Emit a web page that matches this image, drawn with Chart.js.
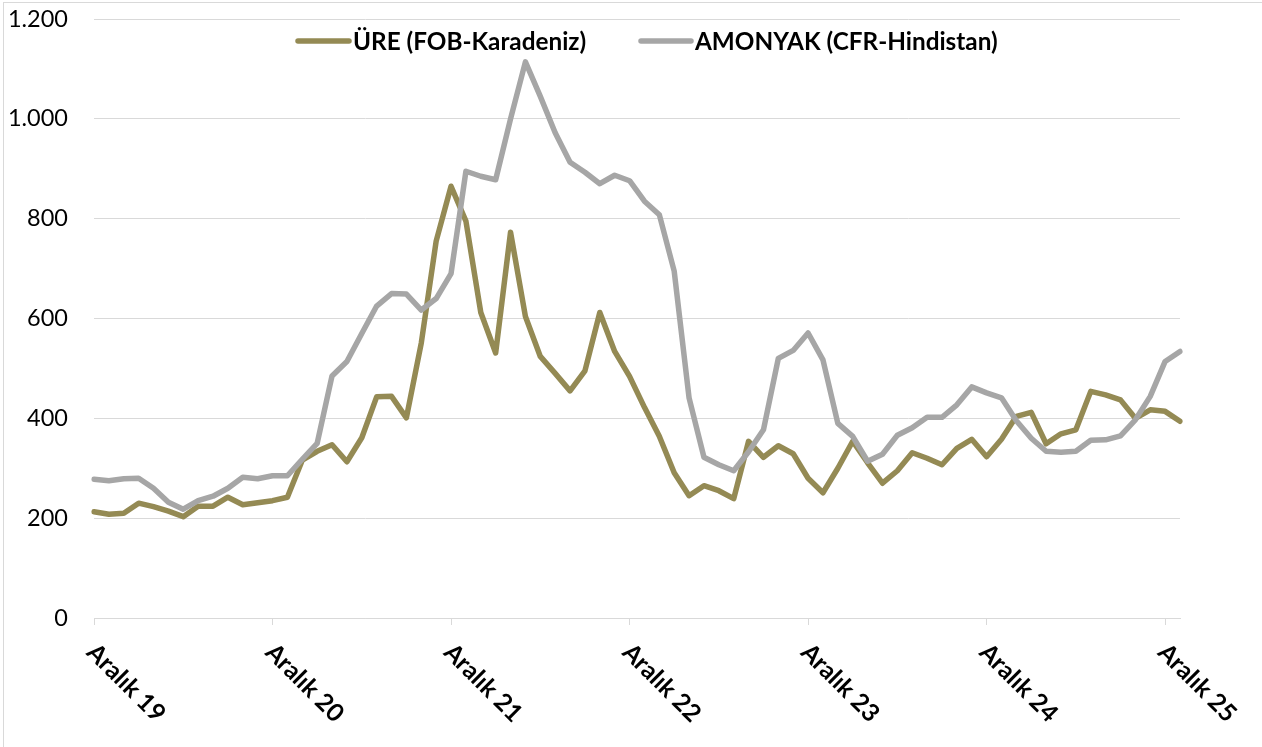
<!DOCTYPE html>
<html>
<head>
<meta charset="utf-8">
<script src="https://cdn.jsdelivr.net/npm/chart.js@4.4.1/dist/chart.umd.min.js"></script>
<style>
  body { margin: 0; background: #fff; }
  #kutu { position: relative; width: 1262px; height: 747px; }
  .cerceve { position: absolute; background: #d9d9d9; }
</style>
</head>
<body>
<div id="kutu">
  <canvas id="grafik" width="1262" height="747"></canvas>
  <div class="cerceve" style="left:3px;top:2px;width:1px;height:745px"></div>
  <div class="cerceve" style="left:3px;top:2px;width:1259px;height:1px"></div>
</div>
<script>
// aylik fiyatlar, Aralik 2019 - Ocak 2026 ($/ton)
var ayAdlari = ['Ara', 'Oca', 'Şub', 'Mar', 'Nis', 'May', 'Haz', 'Tem', 'Ağu', 'Eyl', 'Eki', 'Kas'];
var aylar = [];
for (var i = 0; i < 74; i++) {
  aylar.push(ayAdlari[i % 12] + ' ' + (19 + Math.floor((i + 11) / 12)));
}

var ure = [213, 208, 210, 230, 223, 214, 203, 224, 224, 242,
           227, 231, 235, 242, 316, 334, 347, 313, 361, 443,
           444, 401, 551, 755, 865, 795, 612, 531, 773, 604,
           524, 490, 455, 495, 612, 534, 484, 422, 364, 291,
           245, 265, 255, 239, 354, 322, 345, 329, 280, 251,
           300, 354, 311, 270, 295, 331, 320, 307, 340, 358,
           323, 358, 404, 412, 349, 369, 377, 454, 447, 437,
           400, 417, 414, 394];

var amonyak = [278, 275, 279, 280, 260, 232, 218, 235, 244, 260,
               282, 279, 285, 285, 318, 350, 485, 514, 570, 625,
               650, 649, 617, 640, 690, 895, 885, 878, 1000, 1114,
               1045, 972, 913, 893, 870, 887, 876, 835, 808, 695,
               441, 322, 307, 295, 333, 377, 520, 536, 571, 517,
               390, 364, 314, 328, 366, 381, 402, 402, 427, 463,
               451, 441, 395, 360, 334, 332, 334, 356, 357, 365,
               397, 444, 514, 534];

var xEtiketleri = ['Aralık 19', 'Aralık 20', 'Aralık 21', 'Aralık 22', 'Aralık 23', 'Aralık 24', 'Aralık 25'];
var seriAdlari = ['ÜRE (FOB-Karadeniz)', 'AMONYAK (CFR-Hindistan)'];
var renkler = ['#948a54', '#a6a6a6'];

function noktali(v) {
  return String(v).replace(/\B(?=(\d{3})+(?!\d))/g, '.');
}

// yazi boyunu referanstaki genislige gore ayarla
var olcu = document.createElement('canvas').getContext('2d');
function boyBul(yazi, agirlik, aile, genislik) {
  olcu.font = agirlik + ' 20px ' + aile;
  return Math.round(20 * genislik / olcu.measureText(yazi).width * 10) / 10;
}
var yBoy = boyBul('1.200', 'normal', 'Lato', 60);
var xBoy = boyBul('Aralık 19', 'bold', 'Lato', 99);
var lBoy = boyBul(seriAdlari[0], 'bold', 'Lato', 233);

// x etiketleri 45 derece, tikten asagi saga dogru
var xEtiketEklentisi = {
  id: 'xEtiket',
  afterDraw: function(chart) {
    var ctx = chart.ctx;
    var sx = chart.scales.x;
    ctx.save();
    ctx.font = 'bold ' + xBoy + 'px Lato';
    ctx.fillStyle = '#000';
    ctx.textAlign = 'left';
    ctx.textBaseline = 'middle';
    var k = 0;
    for (var i = 0; i < aylar.length; i++) {
      if (i % 12 !== 0) continue;
      var px = sx.getPixelForValue(i);
      ctx.save();
      ctx.translate(px - 3, sx.top + 30);
      ctx.rotate(Math.PI / 4);
      ctx.fillText(xEtiketleri[k], 0, 0);
      ctx.restore();
      k++;
    }
    ctx.restore();
  }
};

// lejant grafigin icinde ustte
var lejantEklentisi = {
  id: 'lejant',
  afterDraw: function(chart) {
    var ctx = chart.ctx;
    var kutular = [[298, 353], [641, 695]];
    ctx.save();
    ctx.font = 'bold ' + lBoy + 'px Lato';
    ctx.textBaseline = 'middle';
    ctx.textAlign = 'left';
    for (var j = 0; j < 2; j++) {
      ctx.strokeStyle = renkler[j];
      ctx.lineWidth = 5.5;
      ctx.lineCap = 'round';
      ctx.beginPath();
      ctx.moveTo(kutular[j][0], 41);
      ctx.lineTo(kutular[j][1] - 4, 41);
      ctx.stroke();
      ctx.fillStyle = '#000';
      ctx.fillText(seriAdlari[j], kutular[j][1], 42);
    }
    ctx.restore();
  }
};

new Chart(document.getElementById('grafik'), {
  type: 'line',
  data: {
    labels: aylar,
    datasets: [{
      label: seriAdlari[0],
      data: ure,
      borderColor: renkler[0],
      backgroundColor: renkler[0],
      borderWidth: 5.5,
      pointRadius: 0,
      tension: 0,
      borderCapStyle: 'round',
      borderJoinStyle: 'round',
      order: 1
    }, {
      label: seriAdlari[1],
      data: amonyak,
      borderColor: renkler[1],
      backgroundColor: renkler[1],
      borderWidth: 5.5,
      pointRadius: 0,
      tension: 0,
      borderCapStyle: 'round',
      borderJoinStyle: 'round',
      order: 0
    }]
  },
  options: {
    responsive: false,
    animation: false,
    layout: { padding: { top: 19, right: 82, bottom: 0, left: 0 } },
    plugins: {
      legend: { display: false },
      tooltip: { enabled: false }
    },
    scales: {
      x: {
        afterFit: function(s) { s.height = 129; s.paddingLeft = 0; s.paddingRight = 0; },
        ticks: { display: false, autoSkip: false },
        grid: {
          drawOnChartArea: false,
          drawTicks: true,
          tickLength: 7,
          color: function(c) { return c.index % 12 === 0 ? '#d9d9d9' : 'rgba(0,0,0,0)'; }
        },
        border: { color: '#d9d9d9', width: 1 }
      },
      y: {
        min: 0,
        max: 1200,
        afterFit: function(s) { s.width = 94; s.paddingTop = 0; s.paddingBottom = 0; },
        ticks: {
          stepSize: 200,
          padding: 26,
          color: '#000',
          font: { family: 'Lato', size: yBoy },
          callback: function(v) { return noktali(v); }
        },
        grid: { color: '#d9d9d9', drawTicks: false },
        border: { display: false }
      }
    }
  },
  plugins: [xEtiketEklentisi, lejantEklentisi]
});
</script>
</body>
</html>
